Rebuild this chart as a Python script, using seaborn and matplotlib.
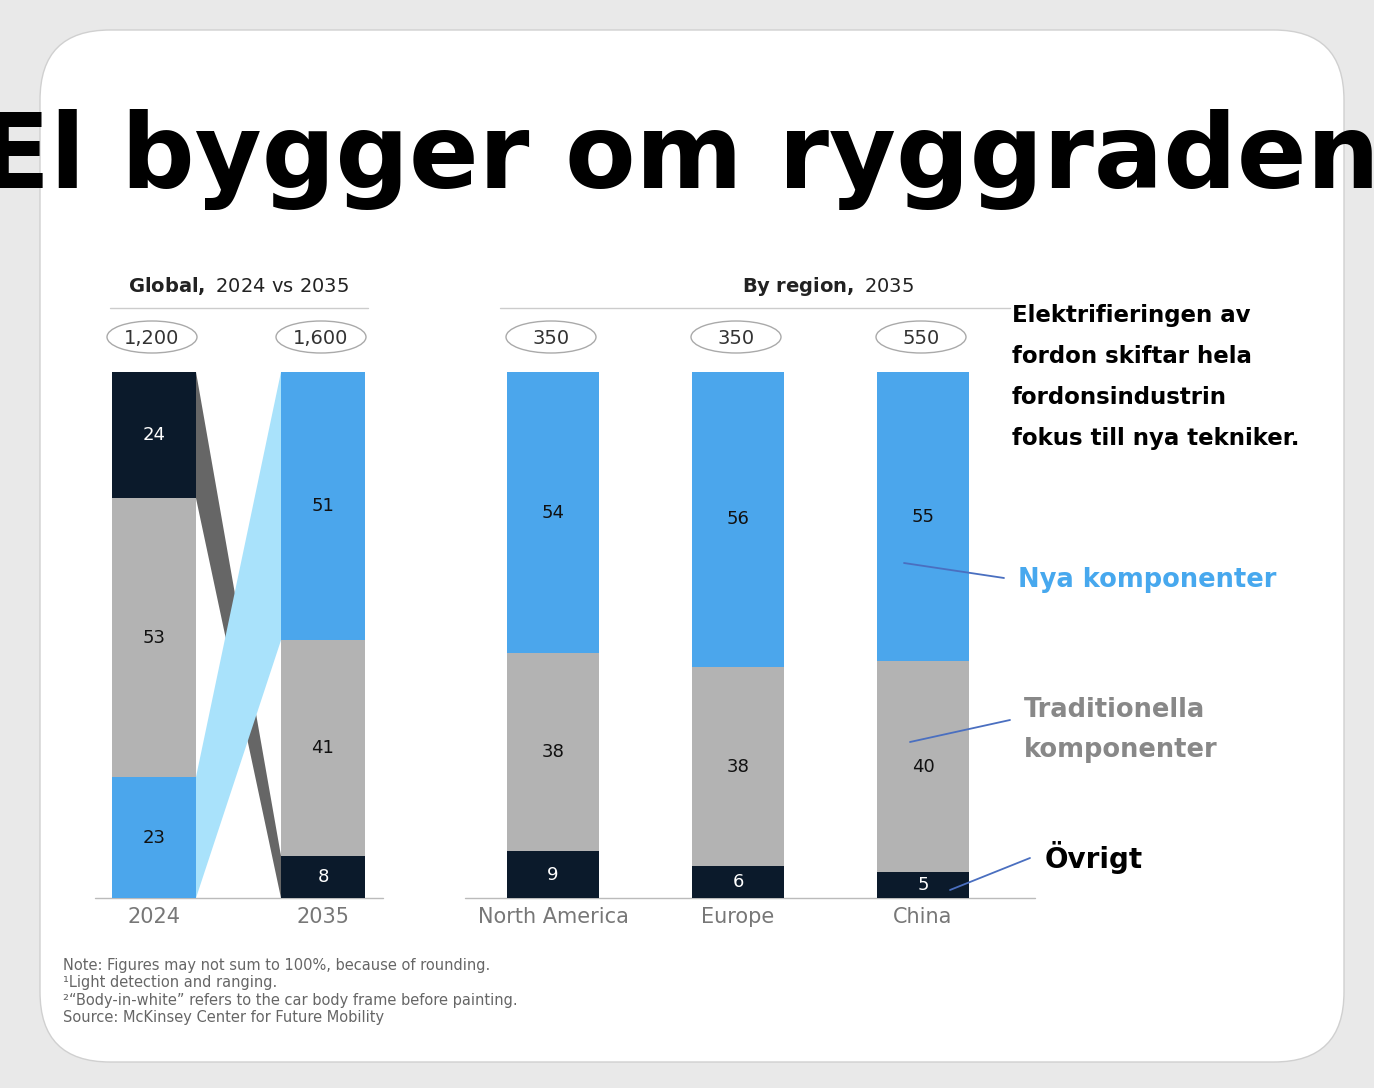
import matplotlib
matplotlib.use("Agg")
import matplotlib.pyplot as plt
import seaborn as sns
from matplotlib.patches import FancyBboxPatch, Ellipse, Polygon

sns.set_theme(style="white")
plt.rcParams['font.family'] = ['DejaVu Sans']

categories = ["2024", "2035", "North America", "Europe", "China"]
totals = ["1,200", "1,600", "350", "350", "550"]
other = [24, 8, 9, 6, 5]
traditional = [53, 41, 38, 38, 40]
new = [23, 51, 54, 56, 55]

W, H = 1374, 1088
fig = plt.figure(figsize=(W/100, H/100), dpi=100)
fig.patch.set_facecolor("#e9e9e9")
bg = fig.add_axes([0, 0, 1, 1]); bg.set_xlim(0, W); bg.set_ylim(H, 0); bg.axis("off")
bg.add_patch(FancyBboxPatch((40, 30), 1304, 1032, boxstyle="round,pad=0,rounding_size=70",
                            fc="white", ec="#d0d0d0", lw=1))

NAVY, GRAY, BLUE, LBLUE, RIB = "#0b1a2b", "#b3b3b3", "#4ba6ec", "#a9e2fb", "#666666"
centers = [154, 323, 553, 738, 923]
widths = [84, 84, 92, 92, 92]
y0, y1 = 898, 372

ax = fig.add_axes([95/W, 1-y0/H, (1035-95)/W, (y0-y1)/H])
ax.set_xlim(95, 1035); ax.set_ylim(0, 100); ax.axis("off")

for i in range(5):
    tot = other[i] + traditional[i] + new[i]
    o, t, n = [v*100/tot for v in (other[i], traditional[i], new[i])]
    if i == 0:
        segs = [(n, BLUE, new[i]), (t, GRAY, traditional[i]), (o, NAVY, other[i])]
    else:
        segs = [(o, NAVY, other[i]), (t, GRAY, traditional[i]), (n, BLUE, new[i])]
    b = 0
    for h, c, lab in segs:
        ax.bar(centers[i], h, width=widths[i], bottom=b, color=c, linewidth=0)
        ax.text(centers[i], b+h/2, str(lab), ha="center", va="center", fontsize=13,
                color="white" if c == NAVY else "#111111")
        b += h

xl, xr = centers[0]+widths[0]/2, centers[1]-widths[1]/2
t0 = sum([other[0], traditional[0], new[0]]); t1 = sum([other[1], traditional[1], new[1]])
o0 = other[0]*100/t0; n0 = new[0]*100/t0
o1 = other[1]*100/t1; n1 = new[1]*100/t1
ax.add_patch(Polygon([(xl, 100), (xl, 100-o0), (xr, 0), (xr, o1)], closed=True, fc=RIB, lw=0))
ax.add_patch(Polygon([(xl, 0), (xl, n0), (xr, 100), (xr, 100-n1)], closed=True, fc=LBLUE, lw=0))

bg.plot([95, 383], [898, 898], color="#bbbbbb", lw=1)
bg.plot([465, 1035], [898, 898], color="#bbbbbb", lw=1)
bg.plot([110, 368], [308, 308], color="#cccccc", lw=1)
bg.plot([500, 1010], [308, 308], color="#cccccc", lw=1)

for i in range(5):
    bg.add_patch(Ellipse((centers[i]-2, 337), 90, 32, fc="white", ec="#aaaaaa", lw=1))
    bg.text(centers[i]-2, 338, totals[i], ha="center", va="center", fontsize=14, color="#333333")
    bg.text(centers[i], 917, categories[i], ha="center", va="center", fontsize=15, color="#777777")

bg.text(238, 286, r"$\bf{Global,}$ 2024 vs 2035", ha="center", va="center", fontsize=14, color="#222222")
bg.text(828, 286, r"$\bf{By\ region,}$ 2035", ha="center", va="center", fontsize=14, color="#222222")

bg.text(680, 160, "El bygger om ryggraden", ha="center", va="center", fontsize=74,
        fontweight="bold", color="black")
bg.text(1012, 377, "Elektrifieringen av\nfordon skiftar hela\nfordonsindustrin\nfokus till nya tekniker.",
        ha="left", va="center", fontsize=16.5, fontweight="bold",
        linespacing=2.0, color="black")
bg.text(1018, 580, "Nya komponenter", ha="left", va="center", fontsize=18.5, fontweight="bold",
        color="#47a8ee")
bg.text(1024, 730, "Traditionella\nkomponenter", ha="left", va="center", fontsize=18.5, fontweight="bold",
        color="#888888", linespacing=1.7)
bg.text(1045, 857, "Övrigt", ha="left", va="center", fontsize=20, fontweight="bold",
        color="black")

ov = fig.add_axes([0, 0, 1, 1]); ov.set_xlim(0, W); ov.set_ylim(H, 0); ov.axis("off")
ov.patch.set_alpha(0)
for (xa, ya, xb, yb) in [(904, 563, 1004, 578), (910, 742, 1010, 720), (950, 890, 1030, 858)]:
    ov.plot([xa, xb], [ya, yb], color="#4a6fc0", lw=1.3)

bg.text(63, 958, "Note: Figures may not sum to 100%, because of rounding.\n"
        "¹Light detection and ranging.\n"
        "²“Body-in-white” refers to the car body frame before painting.\n"
        "Source: McKinsey Center for Future Mobility",
        ha="left", va="top", fontsize=10.5, color="#666666", linespacing=1.2)

fig.savefig("out.png", dpi=100, facecolor=fig.get_facecolor())
